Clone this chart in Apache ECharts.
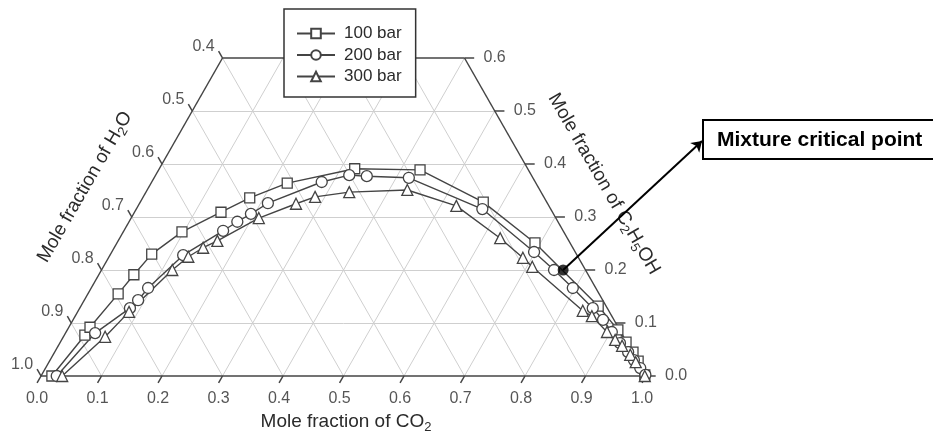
<!DOCTYPE html>
<html>
<head>
<meta charset="utf-8">
<script src="https://cdn.jsdelivr.net/npm/echarts@6/dist/echarts.min.js"></script>
<style>
html, body { margin: 0; padding: 0; background: #fff; }
#chart { width: 933px; height: 435px; }
</style>
</head>
<body>
<div id="chart"></div>
<script>
// mole fractions (CO2 and C2H5OH, water is the rest)
const co2_100  = [0.018, 0.034, 0.035, 0.050, 0.058, 0.068, 0.097, 0.143, 0.177, 0.225, 0.323, 0.432, 0.567, 0.691, 0.855, 0.910, 0.935, 0.956, 0.973, 0.997];
const etoh_100 = [0.000, 0.077, 0.092, 0.155, 0.191, 0.230, 0.272, 0.309, 0.336, 0.364, 0.391, 0.389, 0.328, 0.251, 0.132, 0.087, 0.064, 0.045, 0.028, 0.002];

const co2_200  = [0.026, 0.049, 0.083, 0.089, 0.094, 0.121, 0.164, 0.179, 0.194, 0.212, 0.281, 0.320, 0.350, 0.421, 0.572, 0.698, 0.748, 0.796, 0.848, 0.876, 0.902, 0.926, 0.948, 0.965, 0.983, 0.998];
const etoh_200 = [0.000, 0.081, 0.128, 0.143, 0.166, 0.228, 0.274, 0.291, 0.306, 0.326, 0.366, 0.379, 0.377, 0.374, 0.315, 0.234, 0.200, 0.166, 0.128, 0.106, 0.083, 0.062, 0.045, 0.030, 0.015, 0.002];

const co2_300  = [0.035, 0.069, 0.085, 0.117, 0.131, 0.147, 0.164, 0.211, 0.259, 0.284, 0.336, 0.430, 0.526, 0.629, 0.685, 0.709, 0.834, 0.854, 0.894, 0.915, 0.932, 0.954, 0.970, 0.998];
const etoh_300 = [0.000, 0.074, 0.121, 0.200, 0.225, 0.242, 0.255, 0.298, 0.325, 0.338, 0.347, 0.351, 0.321, 0.260, 0.223, 0.206, 0.123, 0.113, 0.083, 0.068, 0.057, 0.040, 0.026, 0.000];

const critCO2  = [0.763];
const critEtOH = [0.200];

const bottomTicks = ['0.0', '0.1', '0.2', '0.3', '0.4', '0.5', '0.6', '0.7', '0.8', '0.9', '1.0'];
const leftTicks   = ['1.0', '0.9', '0.8', '0.7', '0.6', '0.5', '0.4'];
const rightTicks  = ['0.0', '0.1', '0.2', '0.3', '0.4', '0.5', '0.6'];

const eMax = 0.6;
const FONT = '"Liberation Sans", Arial, sans-serif';
const TXT = '#2b2b2b';

// ternary -> cartesian (x along the CO2 edge, y = ethanol fraction)
function toXY(c, e) { return [c + e / 2, e]; }

// grid lines
let gridSegs = [];
for (let k = 1; k <= 9; k++) {
    const v = k / 10;
    if (v < eMax) gridSegs.push({ coords: [toXY(0, v), toXY(1 - v, v)] });
    gridSegs.push({ coords: [toXY(v, 0), toXY(v, Math.min(1 - v, eMax))] });
    const eTop = Math.min(1 - v, eMax);
    gridSegs.push({ coords: [toXY(1 - v, 0), toXY(1 - v - eTop, eTop)] });
}

// outline
const edgeSegs = [
    { coords: [toXY(0, 0), toXY(1, 0)] },
    { coords: [toXY(0, 0), toXY(0, eMax)] },
    { coords: [toXY(0, eMax), toXY(1 - eMax, eMax)] },
    { coords: [toXY(1, 0), toXY(1 - eMax, eMax)] }
];

// small ticks, continuing the grid lines outside
let tickSegs = [];
bottomTicks.forEach(t => {
    const c = parseFloat(t);
    tickSegs.push({ coords: [toXY(c, 0), toXY(c, -0.013)] });
});
leftTicks.forEach(t => {
    const e = 1 - parseFloat(t);
    tickSegs.push({ coords: [toXY(0, e), toXY(-0.013, e + 0.013)] });
});
rightTicks.forEach(t => {
    const e = parseFloat(t);
    tickSegs.push({ coords: [toXY(1 - e, e), toXY(1 - e + 0.016, e)] });
});

function mkSeries(name, symbol, size, co2, etoh) {
    return {
        name: name,
        type: 'line',
        data: co2.map((c, i) => toXY(c, etoh[i])),
        symbol: symbol,
        symbolSize: size,
        showSymbol: true,
        clip: false,
        z: 3,
        lineStyle: { color: '#444', width: 1.4 },
        itemStyle: { color: '#fff', borderColor: '#444', borderWidth: 1.3 }
    };
}

function tickLabels(ticks, posFn, label) {
    return {
        type: 'scatter',
        symbolSize: 0,
        silent: true,
        clip: false,
        data: ticks.map(t => ({ name: t, value: posFn(parseFloat(t)) })),
        label: Object.assign({
            show: true,
            formatter: '{b}',
            fontSize: 16,
            fontFamily: FONT,
            color: TXT
        }, label)
    };
}

const rich = {
    a: { fontSize: 19, fontFamily: FONT, fill: TXT, lineHeight: 24 },
    s: { fontSize: 13, fontFamily: FONT, fill: TXT, lineHeight: 13, verticalAlign: 'bottom' }
};

function title(x, y, rot, text) {
    return {
        type: 'text',
        x: x, y: y,
        rotation: rot,
        style: {
            text: text, rich: rich,
            align: 'center', verticalAlign: 'middle',
            textAlign: 'center', textVerticalAlign: 'middle'
        }
    };
}

const chart = echarts.init(document.getElementById('chart'));

chart.setOption({
    animation: false,
    grid: { left: 41, right: 287, top: 58, bottom: 59 },
    xAxis: { type: 'value', min: 0, max: 1, show: false },
    yAxis: { type: 'value', min: 0, max: eMax, show: false },
    legend: {
        data: ['100 bar', '200 bar', '300 bar'],
        orient: 'vertical',
        left: 284,
        top: 9,
        padding: [16, 14, 12, 12],
        itemWidth: 38,
        itemHeight: 12,
        itemGap: 4.5,
        backgroundColor: '#fff',
        borderColor: '#333',
        borderWidth: 1.5,
        borderRadius: 0,
        textStyle: { fontSize: 17, fontFamily: FONT, color: TXT, padding: [0, 0, 0, 4] }
    },
    series: [
        {
            type: 'lines', coordinateSystem: 'cartesian2d', silent: true, clip: false, z: 1,
            data: gridSegs, lineStyle: { color: '#cfcfcf', width: 1, opacity: 1 }
        },
        {
            type: 'lines', coordinateSystem: 'cartesian2d', silent: true, clip: false, z: 2,
            data: edgeSegs.concat(tickSegs), lineStyle: { color: '#444', width: 1.5, opacity: 1 }
        },
        mkSeries('100 bar', 'rect', 10, co2_100, etoh_100),
        mkSeries('200 bar', 'circle', 11, co2_200, etoh_200),
        mkSeries('300 bar', 'triangle', 11, co2_300, etoh_300),
        {
            type: 'scatter',
            z: 5,
            clip: false,
            symbolSize: 11,
            itemStyle: { color: '#000' },
            data: critCO2.map((c, i) => toXY(c, critEtOH[i])),
            markLine: {
                silent: true,
                symbol: ['none', 'arrow'],
                symbolSize: 10,
                label: { show: false },
                lineStyle: { color: '#000', width: 2, type: 'solid' },
                data: [[{ coord: toXY(critCO2[0], critEtOH[0]) }, { x: 702, y: 141 }]]
            }
        },
        tickLabels(bottomTicks, c => toXY(c, 0), { position: 'inside', offset: [-4, 23] }),
        tickLabels(leftTicks, w => toXY(0, 1 - w), { position: 'inside', offset: [-19, -11] }),
        tickLabels(rightTicks, e => toXY(1 - e, e), { position: 'right', distance: 19 })
    ],
    graphic: [
        title(346, 422, 0, '{a|Mole fraction of CO}{s|2}'),
        title(85, 187, Math.PI / 3, '{a|Mole fraction of H}{s|2}{a|O}'),
        title(604, 184, -Math.PI / 3, '{a|Mole fraction of C}{s|2}{a|H}{s|5}{a|OH}'),
        {
            type: 'rect',
            shape: { x: 703, y: 120, width: 250, height: 39 },
            style: { fill: '#fff', stroke: '#000', lineWidth: 2 }
        },
        {
            type: 'text',
            x: 717, y: 140,
            style: {
                text: 'Mixture critical point',
                font: 'bold 21px ' + FONT,
                fill: '#000',
                verticalAlign: 'middle', textVerticalAlign: 'middle'
            }
        }
    ]
});
</script>
</body>
</html>
